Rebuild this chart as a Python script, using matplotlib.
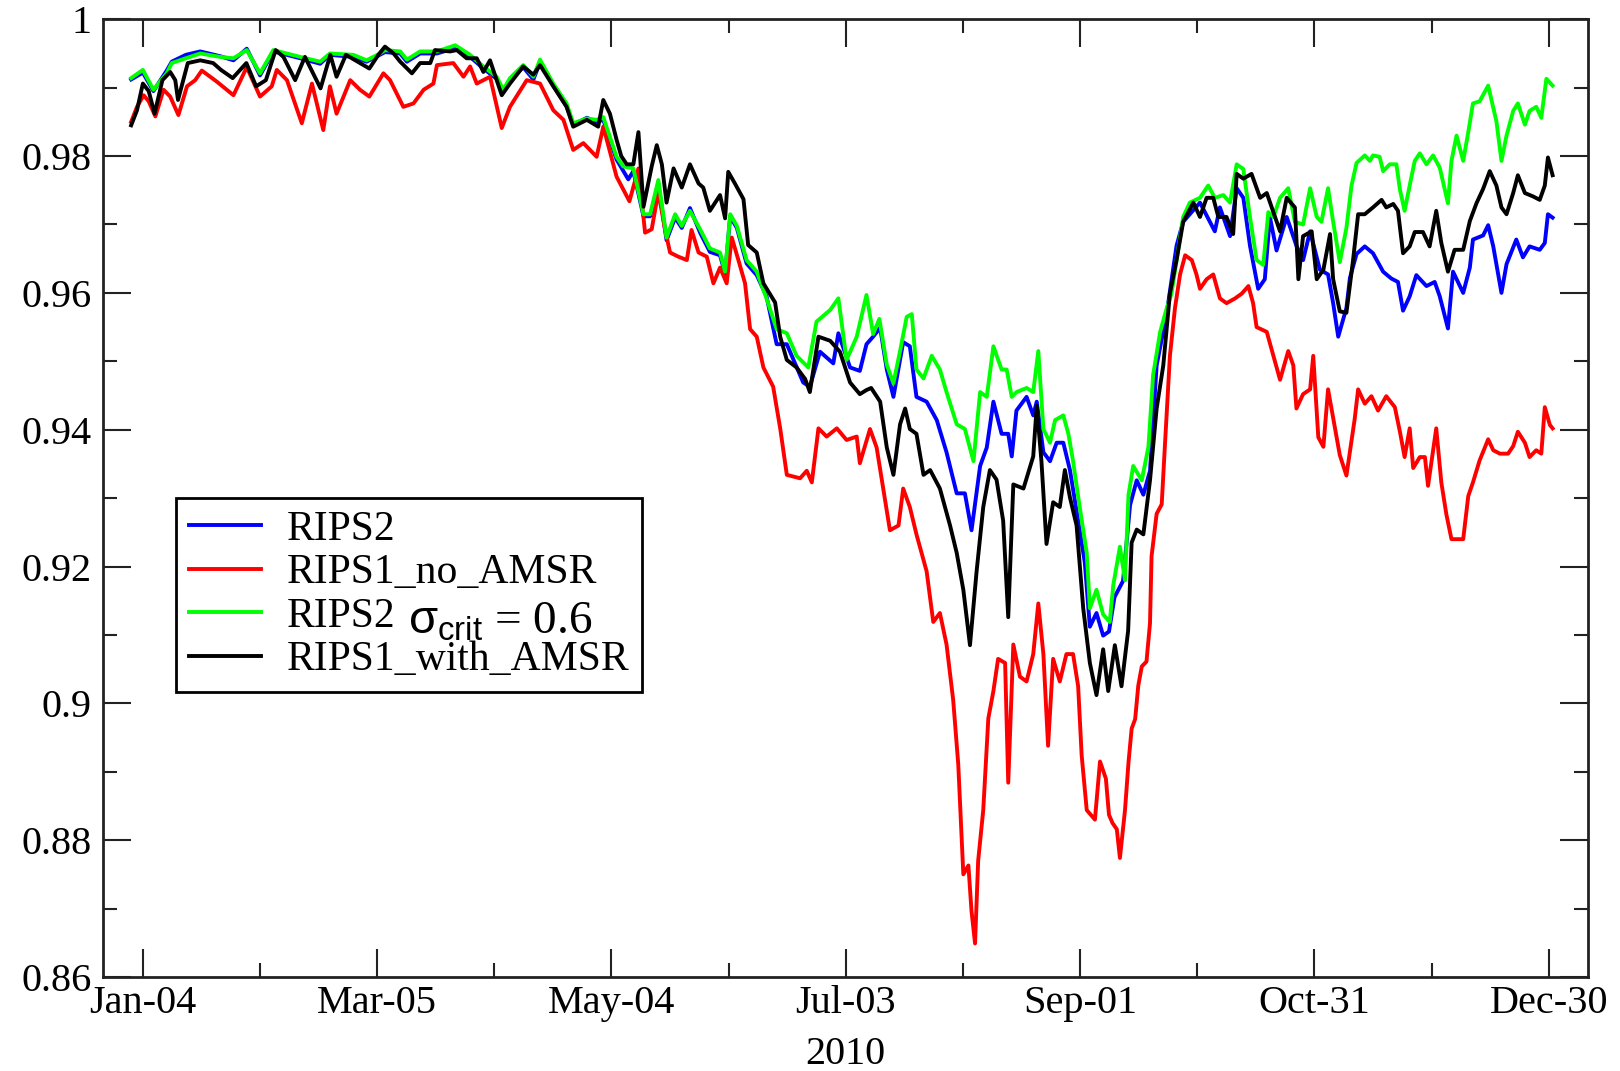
"""
Sea-ice concentration skill, 2010: RIPS2 vs RIPS1 runs
"""

import matplotlib
matplotlib.use("Agg")
import matplotlib.pyplot as plt
from matplotlib.ticker import MultipleLocator, FormatStrFormatter

plt.rcParams['font.family'] = ['Liberation Serif', 'DejaVu Serif']
plt.rcParams['mathtext.fontset'] = 'custom'
plt.rcParams['mathtext.it'] = 'Liberation Sans'
plt.rcParams['mathtext.rm'] = 'Liberation Sans'
plt.rcParams['mathtext.sf'] = 'Liberation Sans'

# x axis: day of year 2010 (Jan-01 = 1)
TICK_DAYS = [4, 64, 124, 184, 244, 304, 364]
TICK_LABELS = ['Jan-04', 'Mar-05', 'May-04', 'Jul-03', 'Sep-01', 'Oct-31', 'Dec-30']

# RIPS2 (blue)
BLUE_DAY = [1, 4, 6.7, 10.1, 11.4, 15, 18.7, 23.8, 27.2, 30.6, 34, 37.4, 44.3, 49.4, 51.9, 57.9, 61.3, 64.7,
            66, 69.9, 71.6, 75, 79.3, 84, 87.8, 91.2, 94.6, 96.3, 98, 101.4, 104, 105.7, 109.1, 112.5, 114.2,
            117.7, 120.2, 121.9, 125.3, 128.3, 129.6, 132.2, 133.9, 136, 138.1, 140.3, 142, 144.1, 146.7,
            149.2, 151.8, 153.1, 154.4, 156.1, 158.6, 161.2, 163.7, 166.3, 168.9, 173.1, 174.8, 177.4, 180.8,
            182.1, 185.1, 187.6, 189.3, 191, 192.8, 194.5, 196.2, 198.7, 200.4, 202.1, 204.7, 207.3, 209.8,
            212.4, 214.5, 216.2, 218.4, 220.1, 221.8, 223.9, 225.6, 226.5, 227.7, 230.3, 232, 232.9, 234.6,
            236.3, 238, 239.7, 241.4, 243.5, 245.2, 246.5, 248.2, 249.9, 251.4, 252.8, 255, 256.8, 258.5,
            260.2, 261.9, 263.6, 266.2, 268.7, 270.4, 274.7, 278.5, 279.8, 282.4, 284.1, 285.8, 287.5, 289.6,
            291.3, 292.6, 294.3, 296.9, 299.4, 301.1, 302.9, 305.4, 307.5, 308.8, 310.1, 312.2, 313.1, 314.8,
            316.9, 319, 321.6, 323.7, 325.4, 326.7, 328.4, 330.1, 332.7, 334.8, 336.1, 338.2, 339.5, 342.1,
            343.8, 344.6, 347.2, 348.5, 349.8, 351.9, 353.2, 355.7, 357.4, 359.1, 361.7, 363, 363.8, 365]
BLUE_VAL = [0.9912, 0.9922, 0.9895, 0.9925, 0.9938, 0.9948, 0.9953, 0.9946, 0.9940, 0.9957, 0.9918, 0.9953,
            0.9943, 0.9935, 0.9948, 0.9945, 0.9938, 0.9948, 0.9952, 0.9950, 0.9938, 0.9950, 0.9950, 0.9958,
            0.9945, 0.9928, 0.9913, 0.9895, 0.9911, 0.9930, 0.9912, 0.9937, 0.9903, 0.9873, 0.9846, 0.9856,
            0.9850, 0.9853, 0.9795, 0.9766, 0.9778, 0.9712, 0.9712, 0.9760, 0.9677, 0.9710, 0.9695, 0.9724,
            0.9688, 0.9660, 0.9655, 0.9628, 0.9712, 0.9695, 0.9643, 0.9626, 0.9595, 0.9525, 0.9525, 0.9469,
            0.9463, 0.9514, 0.9497, 0.9541, 0.9491, 0.9486, 0.9525, 0.9536, 0.9549, 0.9488, 0.9448, 0.9528,
            0.9522, 0.9448, 0.9441, 0.9414, 0.9367, 0.9307, 0.9307, 0.9253, 0.9347, 0.9374, 0.9441, 0.9394,
            0.9394, 0.9361, 0.9428, 0.9448, 0.9421, 0.9441, 0.9367, 0.9354, 0.9381, 0.9381, 0.9341, 0.9267,
            0.9206, 0.9112, 0.9132, 0.9099, 0.9105, 0.9155, 0.9179, 0.9290, 0.9326, 0.9305, 0.9340, 0.9494,
            0.9571, 0.9669, 0.9704, 0.9732, 0.9690, 0.9725, 0.9683, 0.9753, 0.9739, 0.9669, 0.9606, 0.9620,
            0.9711, 0.9662, 0.9711, 0.9669, 0.9648, 0.9690, 0.9634, 0.9627, 0.9585, 0.9536, 0.9578, 0.9622,
            0.9657, 0.9668, 0.9658, 0.9631, 0.9621, 0.9616, 0.9574, 0.9595, 0.9626, 0.9610, 0.9616, 0.9595,
            0.9548, 0.9631, 0.9600, 0.9637, 0.9678, 0.9684, 0.9699, 0.9668, 0.9600, 0.9642, 0.9678, 0.9652,
            0.9668, 0.9663, 0.9673, 0.9715, 0.9710]

# RIPS1_no_AMSR (red)
RED_DAY = [1, 2.5, 4.2, 5.5, 7.2, 9.3, 11, 13.1, 15.3, 17.4, 19.1, 22.9, 27.2, 30.6, 34, 37, 38.3, 40.9, 44.7,
           47.3, 50.2, 51.9, 53.6, 57.1, 59.6, 62, 65.6, 67.3, 70.7, 73.3, 75.9, 78.4, 79.3, 83.5, 86.1, 87.8,
           89.5, 92.9, 95.9, 98, 102.3, 105.7, 109.1, 111.7, 114.2, 116.8, 120.2, 121.9, 125.3, 128.6, 130.9,
           132.6, 134.3, 136, 137.7, 139, 141.1, 143.3, 144.5, 146.3, 148.4, 150.1, 151.8, 153.5, 154.8, 156.5,
           158.2, 159.5, 161.2, 162.9, 165.4, 167.2, 168.9, 172.3, 174, 175.3, 177, 179.1, 181.7, 184.2, 186.8,
           187.6, 190.2, 191.9, 193.6, 195.3, 197.5, 198.7, 200.4, 202.1, 204.7, 206.4, 208.1, 209.8, 211.5,
           212.8, 214.1, 215.4, 216.2, 217.1, 217.9, 219.2, 220.5, 221.8, 223, 224.8, 225.6, 226.9, 228.6,
           230.3, 232, 233.3, 234.6, 235.8, 237.1, 238.8, 240.5, 242.2, 243.5, 244.4, 245.7, 247.8, 249.1,
           250.6, 251.4, 252.3, 253.4, 254.2, 255.5, 256.4, 257.2, 258.1, 258.9, 259.8, 261, 261.9, 262.3,
           263.6, 264.9, 265.7, 267, 268.3, 269.6, 270.9, 272.6, 273.8, 274.7, 276.4, 278.1, 279.8, 281.5,
           283.7, 285.4, 287.1, 288.3, 289.2, 291.8, 293.5, 295.2, 297.3, 298.6, 299.4, 301.1, 302.9, 303.7,
           305, 306.3, 307.5, 308.8, 310.5, 312.2, 314.3, 315.2, 316.9, 318.6, 320.3, 322.4, 324.6, 325.9,
           327.1, 328.4, 329.3, 331, 332.3, 333.1, 334.4, 335.2, 336.5, 337.8, 339.1, 342.1, 343.4, 344.6,
           346.3, 348.5, 349.8, 351.5, 353.6, 354.9, 356.1, 357.9, 359.1, 360.8, 362.1, 363, 364.3, 365]
RED_VAL = [0.9850, 0.9872, 0.9889, 0.9880, 0.9858, 0.9897, 0.9887, 0.9860, 0.9902, 0.9911, 0.9925, 0.9909,
           0.9889, 0.9930, 0.9887, 0.9902, 0.9926, 0.9911, 0.9848, 0.9906, 0.9838, 0.9902, 0.9862, 0.9911,
           0.9897, 0.9887, 0.9921, 0.9911, 0.9872, 0.9877, 0.9897, 0.9906, 0.9933, 0.9936, 0.9916, 0.9931,
           0.9906, 0.9916, 0.9841, 0.9872, 0.9911, 0.9906, 0.9867, 0.9853, 0.9809, 0.9819, 0.9799, 0.9843,
           0.9770, 0.9734, 0.9782, 0.9688, 0.9693, 0.9748, 0.9693, 0.9659, 0.9653, 0.9648, 0.9692, 0.9659,
           0.9653, 0.9614, 0.9637, 0.9614, 0.9681, 0.9648, 0.9614, 0.9547, 0.9536, 0.9491, 0.9463, 0.9402,
           0.9334, 0.9329, 0.9340, 0.9323, 0.9402, 0.9390, 0.9402, 0.9385, 0.9390, 0.9351, 0.9401, 0.9374,
           0.9314, 0.9253, 0.9260, 0.9314, 0.9287, 0.9247, 0.9193, 0.9119, 0.9132, 0.9086, 0.9005, 0.8911,
           0.8750, 0.8763, 0.8696, 0.8649, 0.8770, 0.8844, 0.8978, 0.9018, 0.9065, 0.9059, 0.8884, 0.9086,
           0.9039, 0.9032, 0.9072, 0.9146, 0.9072, 0.8938, 0.9065, 0.9032, 0.9072, 0.9072, 0.9025, 0.8924,
           0.8844, 0.8830, 0.8915, 0.8890, 0.8837, 0.8825, 0.8816, 0.8774, 0.8844, 0.8914, 0.8963, 0.8977,
           0.9026, 0.9054, 0.9061, 0.9117, 0.9215, 0.9277, 0.9291, 0.9375, 0.9508, 0.9578, 0.9627, 0.9655,
           0.9648, 0.9627, 0.9606, 0.9620, 0.9627, 0.9592, 0.9585, 0.9592, 0.9599, 0.9610, 0.9585, 0.9550,
           0.9543, 0.9508, 0.9473, 0.9515, 0.9494, 0.9431, 0.9452, 0.9459, 0.9508, 0.9389, 0.9375, 0.9459,
           0.9417, 0.9363, 0.9333, 0.9415, 0.9459, 0.9438, 0.9449, 0.9428, 0.9449, 0.9433, 0.9397, 0.9360,
           0.9402, 0.9344, 0.9360, 0.9360, 0.9318, 0.9370, 0.9402, 0.9323, 0.9276, 0.9240, 0.9240, 0.9303,
           0.9323, 0.9355, 0.9386, 0.9370, 0.9365, 0.9365, 0.9376, 0.9397, 0.9381, 0.9360, 0.9370, 0.9365,
           0.9433, 0.9407, 0.9402]

# RIPS2, sigma_crit = 0.6 (green)
GREEN_DAY = [1, 4, 6.7, 10.1, 11.4, 15, 18.7, 23.8, 27.2, 30.6, 34, 37.4, 44.3, 49.4, 51.9, 57.9, 61.3, 64.7,
             66, 69.9, 71.6, 75, 79.3, 84, 87.8, 91.2, 94.6, 96.3, 98, 101.4, 104, 105.7, 109.1, 112.5, 114.2,
             117.7, 120.2, 121.9, 125.3, 127, 129.6, 132.2, 133.9, 136, 138.1, 140.3, 142, 144.1, 146.7, 149.2,
             151.8, 153.1, 154.4, 156.1, 158.6, 161.2, 163.7, 166.3, 168.9, 171.4, 174.4, 176.5, 180, 182.1,
             184.2, 186.8, 189.3, 191, 192.6, 194.5, 196.2, 197.9, 199.6, 200.9, 202.1, 203.9, 206, 208.1,
             209.8, 212.4, 214.5, 216.7, 218.4, 220.1, 221.8, 223.9, 225.2, 226.5, 227.7, 230.3, 232, 233.3,
             234.6, 236.3, 237.6, 239.7, 241, 242.2, 243.9, 245.7, 246.5, 248.2, 249.9, 251.6, 252.5, 254.2,
             255.5, 256.4, 257.6, 259.8, 261.5, 262.7, 264.5, 266.2, 267.4, 268.7, 270.4, 272.1, 274.7, 276.8,
             278.5, 280.7, 282.4, 284.1, 285.8, 287.5, 289.2, 290.9, 292.2, 293.5, 295.2, 297.3, 299, 301.1,
             302.9, 304.6, 305.8, 307.5, 308.8, 310.5, 312.2, 313.5, 314.8, 316.9, 318.2, 319, 320.7, 321.6,
             323.3, 325, 325.9, 327.1, 328.4, 329.7, 331, 332.7, 334.4, 336.1, 337.8, 338.2, 339.1, 340.4,
             342.1, 343.4, 344.6, 346.3, 348.5, 349.8, 350.6, 351.9, 353.2, 354.9, 356.1, 357.9, 359.1, 360.8,
             362.1, 363.4, 365]
GREEN_VAL = [0.9914, 0.9926, 0.9897, 0.9921, 0.9936, 0.9943, 0.9950, 0.9945, 0.9943, 0.9955, 0.9921, 0.9955,
             0.9945, 0.9938, 0.9950, 0.9948, 0.9940, 0.9950, 0.9955, 0.9953, 0.9941, 0.9953, 0.9953, 0.9962,
             0.9948, 0.9931, 0.9916, 0.9897, 0.9914, 0.9933, 0.9916, 0.9941, 0.9906, 0.9877, 0.9848, 0.9855,
             0.9853, 0.9857, 0.9799, 0.9785, 0.9782, 0.9715, 0.9715, 0.9765, 0.9681, 0.9715, 0.9698, 0.9720,
             0.9693, 0.9665, 0.9659, 0.9631, 0.9715, 0.9698, 0.9648, 0.9631, 0.9592, 0.9547, 0.9541, 0.9508,
             0.9491, 0.9558, 0.9575, 0.9592, 0.9502, 0.9536, 0.9597, 0.9540, 0.9562, 0.9495, 0.9468, 0.9515,
             0.9565, 0.9569, 0.9488, 0.9475, 0.9508, 0.9488, 0.9455, 0.9408, 0.9401, 0.9354, 0.9455, 0.9448,
             0.9522, 0.9488, 0.9488, 0.9448, 0.9455, 0.9461, 0.9455, 0.9515, 0.9401, 0.9381, 0.9414, 0.9421,
             0.9394, 0.9354, 0.9287, 0.9220, 0.9139, 0.9166, 0.9130, 0.9119, 0.9173, 0.9229, 0.9180, 0.9305,
             0.9347, 0.9326, 0.9375, 0.9480, 0.9543, 0.9578, 0.9599, 0.9648, 0.9711, 0.9732, 0.9739, 0.9757,
             0.9739, 0.9743, 0.9732, 0.9788, 0.9781, 0.9711, 0.9648, 0.9641, 0.9718, 0.9711, 0.9739, 0.9753,
             0.9704, 0.9700, 0.9753, 0.9711, 0.9704, 0.9753, 0.9704, 0.9645, 0.9695, 0.9757, 0.9790, 0.9801,
             0.9793, 0.9801, 0.9799, 0.9778, 0.9788, 0.9788, 0.9751, 0.9720, 0.9757, 0.9793, 0.9804, 0.9788,
             0.9801, 0.9783, 0.9741, 0.9731, 0.9793, 0.9830, 0.9793, 0.9835, 0.9877, 0.9880, 0.9903, 0.9871,
             0.9851, 0.9793, 0.9830, 0.9866, 0.9877, 0.9846, 0.9866, 0.9872, 0.9856, 0.9913, 0.9903]

# RIPS1_with_AMSR (black)
BLACK_DAY = [1, 2.5, 4, 5.5, 7, 9, 11, 12.3, 13, 15.5, 18.7, 22, 24, 27, 30.5, 33, 35.5, 38, 40, 43, 45.5,
             49.5, 52, 53.6, 56, 59.6, 62, 64.3, 66, 68.2, 69.9, 72.9, 75, 77.6, 78.8, 82.7, 84.4, 86.9, 89.5,
             91.2, 92.9, 95.9, 98, 101.4, 104, 105.7, 109.1, 112.5, 114.2, 117.7, 120.6, 121.9, 123.6, 125.3,
             126.5, 127.9, 129.6, 130.9, 132.2, 134.3, 135.6, 136.9, 138.1, 139.9, 142, 144.1, 146.3, 147.5,
             149.2, 151.8, 153.1, 153.9, 155.6, 157.8, 159, 161.2, 162.9, 165.9, 167.2, 168.9, 171.4, 173.6,
             174.8, 177, 180, 182.5, 185.1, 187.6, 189.3, 190.5, 192.8, 194.5, 196.2, 197.9, 199.2, 200.4,
             202.1, 203.9, 205.6, 208.1, 210.7, 212.4, 214.1, 215.8, 217.5, 219.2, 220.9, 222.6, 224.3, 225.6,
             226.9, 229.5, 232, 232.9, 234.1, 235.4, 237.1, 238.8, 240.1, 241.4, 243.1, 244.8, 246.5, 248.2,
             249.9, 251.2, 252.9, 254.6, 256.3, 257.2, 258.5, 260.2, 261.9, 263.6, 265.3, 267, 268.7, 270.4,
             273, 274.7, 276.4, 278.1, 279.4, 281.5, 283.2, 284.1, 285.8, 287.9, 290.1, 291.8, 293.5, 295.2,
             296.9, 299, 299.9, 301.1, 303.3, 304.6, 306.3, 308, 308.8, 310.5, 312.2, 313.9, 315.2, 316.9, 319,
             321.2, 322.4, 324.2, 325.4, 326.7, 328.4, 329.7, 331.8, 333.5, 335.2, 336.5, 338.2, 339.9, 342.1,
             343.8, 345.5, 347.2, 348.9, 350.6, 351.9, 353.2, 354.9, 356.1, 357.9, 360, 361.7, 363, 363.8, 365]
BLACK_VAL = [0.9845, 0.9867, 0.9906, 0.9895, 0.9862, 0.9911, 0.9923, 0.9911, 0.9882, 0.9936, 0.9940, 0.9936,
             0.9926, 0.9914, 0.9936, 0.9902, 0.9911, 0.9955, 0.9945, 0.9911, 0.9945, 0.9899, 0.9948, 0.9916,
             0.9948, 0.9936, 0.9928, 0.9948, 0.9960, 0.9950, 0.9938, 0.9921, 0.9936, 0.9936, 0.9955, 0.9953,
             0.9955, 0.9943, 0.9943, 0.9923, 0.9940, 0.9889, 0.9906, 0.9931, 0.9919, 0.9933, 0.9902, 0.9872,
             0.9843, 0.9853, 0.9843, 0.9882, 0.9862, 0.9824, 0.9800, 0.9788, 0.9788, 0.9835, 0.9726, 0.9785,
             0.9816, 0.9788, 0.9732, 0.9782, 0.9754, 0.9788, 0.9760, 0.9754, 0.9720, 0.9743, 0.9709, 0.9777,
             0.9760, 0.9737, 0.9670, 0.9659, 0.9614, 0.9586, 0.9536, 0.9502, 0.9491, 0.9474, 0.9455, 0.9536,
             0.9530, 0.9514, 0.9469, 0.9452, 0.9458, 0.9461, 0.9441, 0.9374, 0.9334, 0.9408, 0.9431, 0.9401,
             0.9394, 0.9334, 0.9341, 0.9314, 0.9260, 0.9220, 0.9166, 0.9085, 0.9193, 0.9287, 0.9341, 0.9327,
             0.9267, 0.9126, 0.9320, 0.9314, 0.9361, 0.9435, 0.9354, 0.9233, 0.9294, 0.9287, 0.9341, 0.9301,
             0.9260, 0.9139, 0.9059, 0.9012, 0.9079, 0.9018, 0.9085, 0.9025, 0.9106, 0.9235, 0.9254, 0.9247,
             0.9326, 0.9431, 0.9494, 0.9599, 0.9648, 0.9704, 0.9732, 0.9711, 0.9739, 0.9739, 0.9711, 0.9711,
             0.9686, 0.9774, 0.9767, 0.9774, 0.9739, 0.9746, 0.9718, 0.9690, 0.9739, 0.9725, 0.9620, 0.9683,
             0.9690, 0.9620, 0.9634, 0.9686, 0.9620, 0.9573, 0.9571, 0.9648, 0.9715, 0.9715, 0.9725, 0.9736,
             0.9725, 0.9730, 0.9720, 0.9658, 0.9668, 0.9689, 0.9689, 0.9668, 0.9720, 0.9673, 0.9631, 0.9663,
             0.9663, 0.9705, 0.9731, 0.9752, 0.9778, 0.9757, 0.9725, 0.9715, 0.9746, 0.9772, 0.9746, 0.9741,
             0.9736, 0.9757, 0.9798, 0.9772]

FS = 29

fig = plt.figure(figsize=(16.2, 10.71), dpi=100)
ax = fig.add_axes([0.0636, 0.0878, 0.9165, 0.8942])

lw = 2.8
ax.plot(BLUE_DAY, BLUE_VAL, color='#0000ff', lw=lw, label='RIPS2')
ax.plot(RED_DAY, RED_VAL, color='#ff0000', lw=lw, label='RIPS1_no_AMSR')
ax.plot(GREEN_DAY, GREEN_VAL, color='#00ff00', lw=lw, label='RIPS2')
ax.plot(BLACK_DAY, BLACK_VAL, color='black', lw=lw, label='RIPS1_with_AMSR')

ax.set_xlim(-6.2, 374)
ax.set_ylim(0.86, 1.0)

ax.set_xticks(TICK_DAYS)
ax.set_xticklabels(TICK_LABELS)
ax.set_xticks([34, 94, 154, 214, 274, 334], minor=True)
ax.yaxis.set_major_locator(MultipleLocator(0.02))
ax.yaxis.set_minor_locator(MultipleLocator(0.01))
ax.yaxis.set_major_formatter(FormatStrFormatter('%g'))

ax.tick_params(which='both', direction='in', top=True, right=True, width=1.5, colors='#222222',
               labelcolor='black')
ax.tick_params(which='major', length=20, labelsize=FS)
ax.tick_params(which='minor', length=10)
ax.tick_params(axis='y', pad=8)
ax.tick_params(axis='x', pad=6)
for s in ax.spines.values():
    s.set_linewidth(2)
    s.set_color('#222222')

ax.set_xlabel('2010', fontsize=FS, labelpad=10)

leg = ax.legend(loc='upper left', bbox_to_anchor=(0.0492, 0.5002), fontsize=30, frameon=True,
                fancybox=False, framealpha=1, edgecolor='black', handlelength=1.75,
                handletextpad=0.6, labelspacing=0.12, borderpad=0.3, borderaxespad=0)
leg.get_frame().set_linewidth(2)
leg.set_zorder(4)

ax.text(0.2055, 0.3585, r'$\sigma_{crit}$ = 0.6', transform=ax.transAxes, fontsize=34,
        va='baseline', ha='left', zorder=10)

plt.savefig('out.png', dpi=100)
